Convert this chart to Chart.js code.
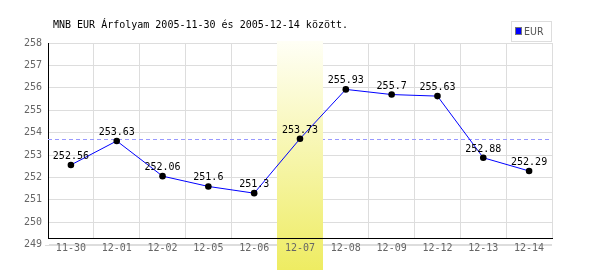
<!DOCTYPE html>
<html>
<head>
<meta charset="utf-8">
<script src="https://cdn.jsdelivr.net/npm/chart.js@4/dist/chart.umd.min.js"></script>
<style>
  html, body { margin: 0; padding: 0; background: #fff; }
  #wrap { width: 600px; height: 270px; }
</style>
</head>
<body>
<div id="wrap"><canvas id="rateChart" width="600" height="270"></canvas></div>
<script>
const titleText = 'MNB EUR Árfolyam 2005-11-30 és 2005-12-14 között.';
const seriesName = 'EUR';
const dates = ['11-30', '12-01', '12-02', '12-05', '12-06', '12-07', '12-08', '12-09', '12-12', '12-13', '12-14'];
const rates = [252.56, 253.63, 252.06, 251.6, 251.3, 253.73, 255.93, 255.7, 255.63, 252.88, 252.29];
const selectedIndex = 5; // 12-07 is highlighted, dashed line is its rate
const yTickValues = [249, 250, 251, 252, 253, 254, 255, 256, 257, 258];

const monoFont = '"DejaVu Sans Mono", "Liberation Mono", monospace';

// band + dashed reference line, drawn under the data
const highlightPlugin = {
    id: 'highlight',
    beforeDatasetsDraw(chart) {
        const ctx = chart.ctx;
        const area = chart.chartArea;
        const x = chart.scales.x;
        const y = chart.scales.y;
        ctx.save();

        // faint line for the 249 tick below the axis
        ctx.strokeStyle = '#dddddd';
        ctx.lineWidth = 1;
        const y249 = Math.round(y.getPixelForValue(yTickValues[0])) + 0.5;
        ctx.beginPath();
        ctx.moveTo(area.left - 3, y249);
        ctx.lineTo(area.right, y249);
        ctx.stroke();

        // dashed line at the selected day's rate
        const yRef = Math.round(y.getPixelForValue(rates[selectedIndex])) + 0.5;
        ctx.strokeStyle = '#9999ff';
        ctx.setLineDash([4, 3]);
        ctx.beginPath();
        ctx.moveTo(area.left, yRef);
        ctx.lineTo(area.right, yRef);
        ctx.stroke();
        ctx.setLineDash([]);

        // highlighted column
        const half = (x.getPixelForValue(1) - x.getPixelForValue(0)) / 2;
        const cx = x.getPixelForValue(selectedIndex);
        const top = area.top - 2;
        const bottom = chart.height;
        const grad = ctx.createLinearGradient(0, top, 0, bottom);
        grad.addColorStop(0, '#fffff6');
        grad.addColorStop(1, '#eeec62');
        ctx.fillStyle = grad;
        ctx.fillRect(Math.round(cx - half), top, Math.round(2 * half), bottom - top);
        ctx.restore();
    }
};

// value labels, title and boxed legend
const textPlugin = {
    id: 'texts',
    afterDraw(chart) {
        const ctx = chart.ctx;
        const meta = chart.getDatasetMeta(0);
        ctx.save();
        ctx.font = '10px ' + monoFont;
        ctx.fillStyle = '#000';
        ctx.textAlign = 'center';
        ctx.textBaseline = 'alphabetic';
        meta.data.forEach((pt, i) => {
            ctx.fillText(String(rates[i]), pt.x, pt.y - 6);
        });

        ctx.textAlign = 'left';
        ctx.textBaseline = 'middle';
        ctx.fillText(titleText, 53, 25);

        // legend box
        ctx.strokeStyle = '#dddddd';
        ctx.lineWidth = 1;
        ctx.strokeRect(511.5, 21.5, 40, 20);
        ctx.fillStyle = '#0000ff';
        ctx.fillRect(516, 28, 6, 6);
        ctx.strokeStyle = '#777';
        ctx.strokeRect(515.5, 27.5, 6, 7);
        ctx.fillStyle = '#555';
        ctx.font = '10.5px "DejaVu Sans Condensed", "DejaVu Sans", sans-serif';
        ctx.textBaseline = 'alphabetic';
        ctx.fillText(seriesName, 524, 35);
        ctx.restore();
    }
};

const ctx = document.getElementById('rateChart').getContext('2d');
const chart = new Chart(ctx, {
    type: 'line',
    data: {
        labels: dates,
        datasets: [{
            label: seriesName,
            data: rates,
            borderColor: '#0000ff',
            borderWidth: 1,
            pointRadius: 3.3,
            pointHoverRadius: 3.3,
            pointBackgroundColor: '#000',
            pointBorderColor: '#000',
            pointBorderWidth: 0,
            tension: 0,
            fill: false
        }]
    },
    options: {
        responsive: false,
        animation: false,
        events: [],
        layout: { padding: { top: 43, right: 48, bottom: 0, left: 0 } },
        plugins: {
            legend: { display: false },
            title: { display: false },
            tooltip: { enabled: false }
        },
        scales: {
            x: {
                offset: true,
                grid: { offset: true, color: '#dddddd', drawTicks: false },
                border: { color: '#000', width: 1, z: 1 },
                ticks: {
                    color: '#666',
                    font: { family: monoFont, size: 10 },
                    padding: 4,
                    maxRotation: 0,
                    autoSkip: false,
                    z: 1
                },
                afterFit(scale) { scale.height = 32; }
            },
            y: {
                min: 249.3,
                max: 258,
                grid: { color: '#dddddd', drawTicks: false },
                border: { color: '#000', width: 1 },
                ticks: {
                    color: '#666',
                    font: { family: monoFont, size: 10 },
                    padding: 6,
                    autoSkip: false
                },
                afterBuildTicks(scale) {
                    scale.ticks = yTickValues.map(v => ({ value: v }));
                },
                afterFit(scale) { scale.width = 48; }
            }
        }
    },
    plugins: [highlightPlugin, textPlugin]
});
</script>
</body>
</html>
